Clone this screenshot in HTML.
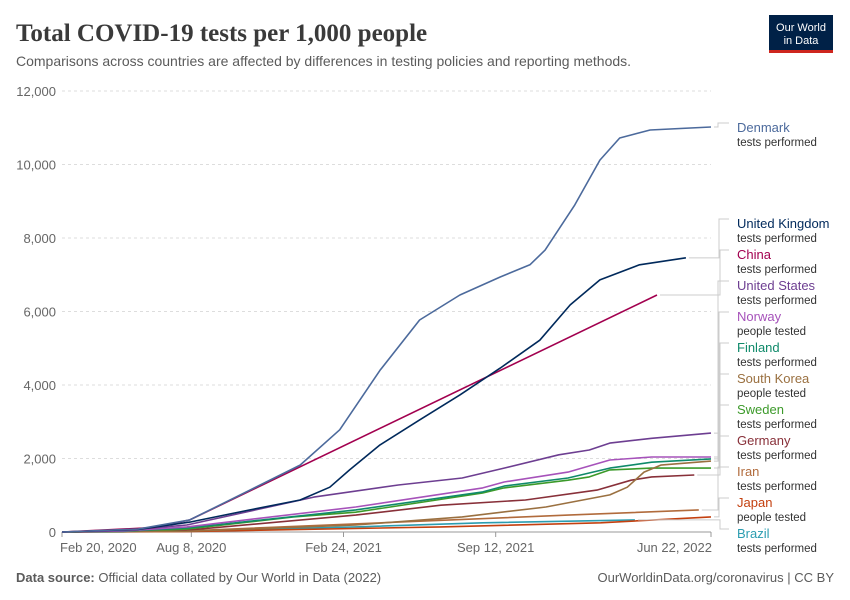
<!DOCTYPE html>
<html><head><meta charset="utf-8"><style>
body{margin:0;background:#fff;font-family:"Liberation Sans",sans-serif}
svg{display:block}
</style></head><body>
<svg id="c" width="850" height="600">
<text x="16" y="41" font-family="Liberation Serif,serif" font-size="25" font-weight="bold" fill="#3a3a3a">Total COVID-19 tests per 1,000 people</text>
<text x="16" y="66" font-size="14" fill="#5b5b5b">Comparisons across countries are affected by differences in testing policies and reporting methods.</text>
<g><rect x="769" y="15" width="64" height="37" fill="#002147"/><rect x="769" y="50" width="64" height="3" fill="#ce261e"/>
<text x="801" y="31" font-size="11" fill="#fff" text-anchor="middle">Our World</text><text x="801" y="44" font-size="11" fill="#fff" text-anchor="middle">in Data</text></g>
<g id="grid"></g>
<g id="xax"></g>
<g id="series"></g>
<g id="legend"></g>
<text x="16" y="582" font-size="13" fill="#5b5b5b"><tspan font-weight="bold">Data source:</tspan> Official data collated by Our World in Data (2022)</text>
<text x="834" y="582" font-size="13" fill="#5b5b5b" text-anchor="end">OurWorldinData.org/coronavirus | CC BY</text>
</svg>
<script>
const yTicks=[0,2000,4000,6000,8000,10000,12000];
const xTickDays=[0,170,370,570,853];
const xTickLabels=["Feb 20, 2020","Aug 8, 2020","Feb 24, 2021","Sep 12, 2021","Jun 22, 2022"];
const countries=["Denmark","United Kingdom","China","United States","Norway","Finland","South Korea","Sweden","Germany","Iran","Japan","Brazil"];
const subLabels=["tests performed","tests performed","tests performed","tests performed","people tested","tests performed","people tested","tests performed","tests performed","tests performed","people tested","tests performed"];
const colors=["#4c6a9c","#00295b","#a2004f","#6d3e91","#a652ba","#0f8a6a","#9a7040","#3c9a2a","#883039","#b16b3c","#c4400f","#2c9db0"];
const denmarkDays=[0,100,168,247,313,365,418,470,523,576,615,635,674,707,733,773,853];
const denmarkVals=[0,80,330,1140,1820,2780,4400,5770,6450,6940,7270,7670,8900,10120,10720,10940,11020];
const ukDays=[0,100,168,247,313,352,378,418,470,523,576,628,668,707,759,820];
const ukVals=[0,70,270,600,870,1220,1690,2370,3050,3730,4460,5220,6180,6860,7270,7460];
const chinaDays=[0,120,168,782];
const chinaVals=[0,120,330,6450];
const usDays=[0,80,164,331,442,526,581,653,693,720,775,853];
const usVals=[0,40,190,950,1280,1470,1740,2100,2230,2420,2550,2690];
const norwayDays=[0,80,164,386,553,581,665,720,775,853];
const norwayVals=[0,30,140,680,1200,1360,1630,1960,2040,2040];
const finlandDays=[0,80,164,386,553,581,665,720,775,853];
const finlandVals=[0,20,110,600,1090,1250,1470,1740,1900,1990];
const koreaDays=[0,164,386,526,636,720,743,765,787,853];
const koreaVals=[0,20,190,410,680,1010,1220,1630,1820,1930];
const swedenDays=[0,80,164,304,386,553,581,665,693,720,775,853];
const swedenVals=[0,10,80,410,540,1060,1200,1410,1500,1690,1740,1740];
const germanyDays=[0,80,164,386,498,609,703,748,775,831];
const germanyVals=[0,10,50,460,730,870,1140,1410,1500,1550];
const iranDays=[0,164,442,665,837];
const iranVals=[0,30,270,460,600];
const japanDays=[0,164,498,708,853];
const japanVals=[0,10,140,250,410];
const brazilDays=[0,80,164,386,553,753];
const brazilVals=[0,5,30,140,250,330];
const seriesDays=[denmarkDays,ukDays,chinaDays,usDays,norwayDays,finlandDays,koreaDays,swedenDays,germanyDays,iranDays,japanDays,brazilDays];
const seriesVals=[denmarkVals,ukVals,chinaVals,usVals,norwayVals,finlandVals,koreaVals,swedenVals,germanyVals,iranVals,japanVals,brazilVals];
const NS="http://www.w3.org/2000/svg";
const X0=62,X1=711,Y0=532,Y1=91,DMAX=853,VMAX=12000;
const xs=d=>X0+d*(X1-X0)/DMAX, ys=v=>Y0-v*(Y0-Y1)/VMAX;
function mk(t,a,p){const e=document.createElementNS(NS,t);for(const k in a)e.setAttribute(k,a[k]);p.appendChild(e);return e;}
const grid=document.getElementById('grid');
yTicks.forEach(v=>{
 const l=mk('line',{x1:X0,x2:X1,y1:ys(v),y2:ys(v),stroke:'#ddd','stroke-dasharray':v?'3,3':'',},grid);
 
 
 const t=mk('text',{x:56,y:ys(v)+5,'text-anchor':'end','font-size':13,fill:'#666'},grid);
 t.textContent=v.toLocaleString('en-US');
 
 
});
mk('line',{x1:X0,x2:X1,y1:Y0,y2:Y0,stroke:'#999'},grid);
const xa=document.getElementById('xax');
xTickDays.forEach((d,i)=>{
 mk('line',{x1:xs(d),x2:xs(d),y1:Y0,y2:Y0+5,stroke:'#999'},xa);
 const anchor=i==0?'start':(i==xTickDays.length-1?'end':'middle');
 const t=mk('text',{x:i==0?xs(d)-2:(i==xTickDays.length-1?xs(d)+1:xs(d)),y:552,'text-anchor':anchor,'font-size':13,fill:'#666'},xa);
 t.textContent=xTickLabels[i];
 
 
});
const sg=document.getElementById('series');
const order=[11,10,9,8,7,6,5,4,3,2,1,0];
order.forEach(i=>{
 const pts=seriesDays[i].map((d,j)=>xs(d).toFixed(1)+','+ys(seriesVals[i][j]).toFixed(1)).join(' ');
 const p=mk('polyline',{points:pts,fill:'none',stroke:colors[i],'stroke-width':1.6,'stroke-linejoin':'round'},sg);
 
 
});
const lg=document.getElementById('legend');
const labelY=[127,223,254,285,316,347,378,409,440,471,502,533];
countries.forEach((c,i)=>{
 const d=seriesDays[i],v=seriesVals[i];
 const ex=xs(d[d.length-1])+3,ey=ys(v[v.length-1]);
 const ly=labelY[i]-4, vx=718+(i%3);
 mk('polyline',{points:`${ex},${ey} ${vx},${ey} ${vx},${ly} 729,${ly}`,fill:'none',stroke:'#ccc','stroke-width':1},lg);
 const t=mk('text',{x:737,y:labelY[i]+5,'font-size':13,fill:colors[i]},lg);
 t.textContent=c;
 
 
 const s=mk('text',{x:737,y:labelY[i]+19,'font-size':11.5,fill:'#333'},lg);
 s.textContent=subLabels[i];
 
 
});
</script>
</body></html>
